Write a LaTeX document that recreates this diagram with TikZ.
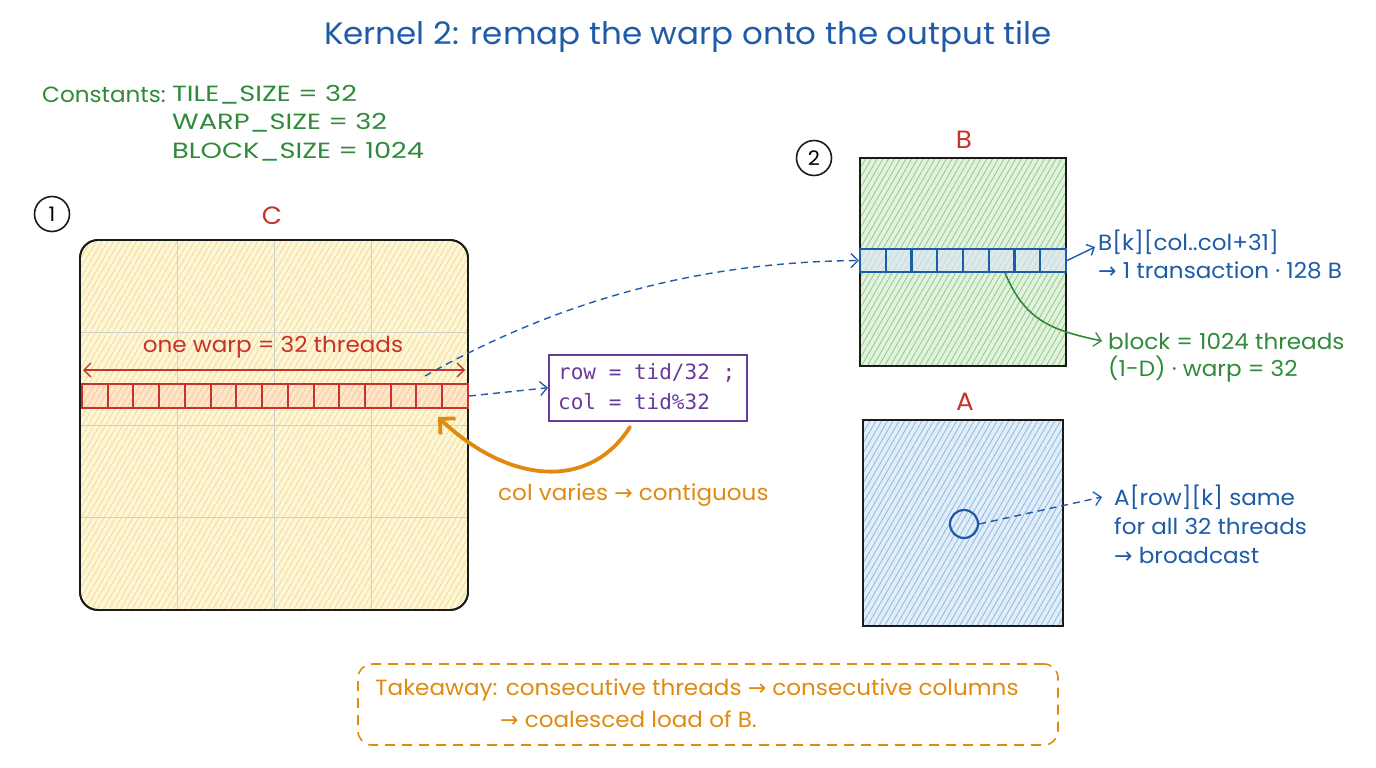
\documentclass[tikz,border=0pt]{standalone}
\usepackage{fontspec}
\setmainfont[FakeStretch=1.05]{Poppins}
\newfontfamily\capsfont[FakeStretch=1.24]{Poppins}
\newfontfamily\arr{DejaVu Sans}
\setmonofont{DejaVu Sans Mono}
\usetikzlibrary{patterns.meta,arrows.meta}
\definecolor{tblue}{HTML}{1E5BA8}
\definecolor{tgreen}{HTML}{2F8A3A}
\definecolor{tred}{HTML}{C8322B}
\definecolor{torange}{HTML}{E08A10}
\definecolor{tpurple}{HTML}{6A3A9A}
\definecolor{tink}{HTML}{1A1A1A}
\definecolor{cfill}{HTML}{FDF6D8}
\definecolor{chatch}{HTML}{F3DC8A}
\definecolor{bfill}{HTML}{E3F2DE}
\definecolor{bhatch}{HTML}{8CCB84}
\definecolor{afill}{HTML}{E1EDF8}
\definecolor{ahatch}{HTML}{8DB6E2}
\definecolor{gridc}{HTML}{CFCFCF}
\newcommand{\ra}{{\arr →}}
\tikzset{
  body/.style={font=\fontsize{22}{26}\selectfont, inner sep=0pt},
  lbl/.style={body, anchor=west},
  clbl/.style={anchor=west, inner sep=0pt, font=\capsfont\fontsize{22}{26}\selectfont},
  tile/.style={draw=tink, line width=1.8pt},
  hatch/.style 2 args={preaction={fill=#1}, preaction={pattern={Lines[angle=60,distance=5pt,line width=0.8pt]}, pattern color=#2}},
  barb/.style={-{Straight Barb[length=7pt,width=14pt,line width=1.3pt]}},
  dbar/.style={{Straight Barb[length=7pt,width=14pt,line width=1.3pt]}-{Straight Barb[length=7pt,width=14pt,line width=1.3pt]}},
  dash1/.style={tblue, line width=1.4pt, dash pattern=on 7pt off 5pt},
  num/.style={draw=tink, circle, line width=1.6pt, minimum size=35pt, inner sep=0pt, font=\fontsize{20}{22}\selectfont},
  title/.style={font=\fontsize{31}{36}\selectfont, text=tblue, inner sep=0pt},
  tlab/.style={text=tred, inner sep=0pt, font=\fontsize{25}{27}\selectfont},
  codetxt/.style={anchor=west, inner sep=0pt, text=tpurple, font=\ttfamily\fontsize{21}{24}\selectfont},
}
\begin{document}
\begin{tikzpicture}[x=1pt,y=-1pt]
\useasboundingbox (0,0) rectangle (1376,768);
% title
\node[title] (title) at (688,37) {Kernel 2: remap the warp onto the output tile};
% constants
\node[lbl, text=tgreen] (cst) at (42,95) {Constants:};
\node[clbl, text=tgreen] (c1) at (172,95) {TILE\_SIZE = 32};
\node[clbl, text=tgreen] (c2) at (172,123) {WARP\_SIZE = 32};
\node[clbl, text=tgreen] (c3) at (172,152) {BLOCK\_SIZE = 1024};
% markers
\node[num] (n1) at (52,214) {1};
\node[num] (n2) at (814,158) {2};
% C tile
\node[tlab] (Clbl) at (272,216) {C};
\node[tile, rounded corners=18pt, minimum width=388pt, minimum height=370pt, hatch={cfill}{chatch}] (C) at (274,425) {};
\foreach \x in {177,274,371} \draw[gridc, line width=1pt] (\x,241) -- (\x,609);
\foreach \y in {332,425,517} \draw[gridc, line width=1pt] (81,\y) -- (467,\y);
\node[tile, rounded corners=18pt, minimum width=388pt, minimum height=370pt] (Cb) at (274,425) {};
% warp row in C
\node[draw=tred, line width=2pt, minimum width=386pt, minimum height=24pt, inner sep=0pt, hatch={orange!20}{orange!45}] (wrow) at (275,396) {};
\foreach \i in {1,...,14} \draw[tred, line width=2pt] (82+\i*25.73,384) -- (82+\i*25.73,408);
\coordinate (dl) at (83,370);
\coordinate (dr) at (465,370);
\draw[tred, line width=1.4pt, dbar] (dl) -- (dr);
\node[body, text=tred] (warplbl) at (273,347) {one warp = 32 threads};
% code box
\node[draw=tpurple, line width=1.5pt, anchor=north west, minimum width=198pt, minimum height=66pt, inner sep=0pt] (code) at (548,354) {};
\node[codetxt] (code1) at (558,373) {row = tid/32 ;};
\node[codetxt] (code2) at (558,402) {col = tid\%32};
\draw[dash1, barb] (wrow.east) -- (code.west);
% orange arrow
\coordinate (os) at (630,427);
\coordinate (ot) at (438,417);
\draw[torange, line width=3.8pt, line cap=round, -{Straight Barb[length=11pt,width=22pt,line width=3.8pt]}] (os) .. controls (590,490) and (510,485) .. (ot);
\node[lbl, text=torange] (colv) at (498,495) {col varies \ra{} contiguous};
% B tile
\node[tlab] (Blbl) at (964,140) {B};
\node[tile, minimum width=206pt, minimum height=208pt, hatch={bfill}{bhatch}] (B) at (963,262) {};
\node[draw=tblue, line width=2.2pt, minimum width=206pt, minimum height=23pt, inner sep=0pt, fill=tblue!15, fill opacity=0.7] (brow) at (963,260.5) {};
\foreach \i in {1,...,7} \draw[tblue, line width=2.2pt] (860+\i*25.75,249) -- (860+\i*25.75,272);
\coordinate (ws) at (425,376);
\draw[dash1, barb] (ws) .. controls (560,300) and (700,262) .. (brow.west);
\node[lbl, text=tblue] (bk1) at (1098,242) {B[k][col..col+31]};
\node[lbl, text=tblue] (bk2) at (1098,270) {\ra{} 1 transaction · 128 B};
\draw[tblue, line width=1.4pt, -{Straight Barb[length=6pt,width=12pt,line width=1.4pt]}] (brow.east) -- ([yshift=-5pt, xshift=-3pt]bk1.west);
\coordinate (gs) at (1005,273);
\node[lbl, text=tgreen] (bl1) at (1108,341) {block = 1024 threads};
\node[lbl, text=tgreen] (bl2) at (1108,369) {(1-D) · warp = 32};
\draw[tgreen, line width=1.6pt, barb] (gs) .. controls (1025,320) and (1050,330) .. ([xshift=-6pt]bl1.west);
% A tile
\node[tlab] (Albl) at (965,402) {A};
\node[tile, minimum width=200pt, minimum height=206pt, hatch={afill}{ahatch}] (A) at (963,523) {};
\node[draw=tblue, circle, line width=2.2pt, minimum size=28pt, inner sep=0pt] (dot) at (964,524) {};
\node[lbl, text=tblue] (a1) at (1114,497) {A[row][k] same};
\node[lbl, text=tblue] (a2) at (1114,526) {for all 32 threads};
\node[lbl, text=tblue] (a3) at (1114,555) {\ra{} broadcast};
\draw[dash1, barb] (dot.east) -- ([xshift=-12pt]a1.west);
% takeaway
\node[draw=torange, line width=1.6pt, dash pattern=on 10pt off 7pt, rounded corners=14pt, minimum width=700pt, minimum height=81pt] (tk) at (708,704.5) {};
\node[lbl, text=torange] (t1) at (375,690) {Takeaway: consecutive threads \ra{} consecutive columns};
\node[lbl, text=torange] (t2) at (500,719) {\ra{} coalesced load of B.};
\end{tikzpicture}
\end{document}
